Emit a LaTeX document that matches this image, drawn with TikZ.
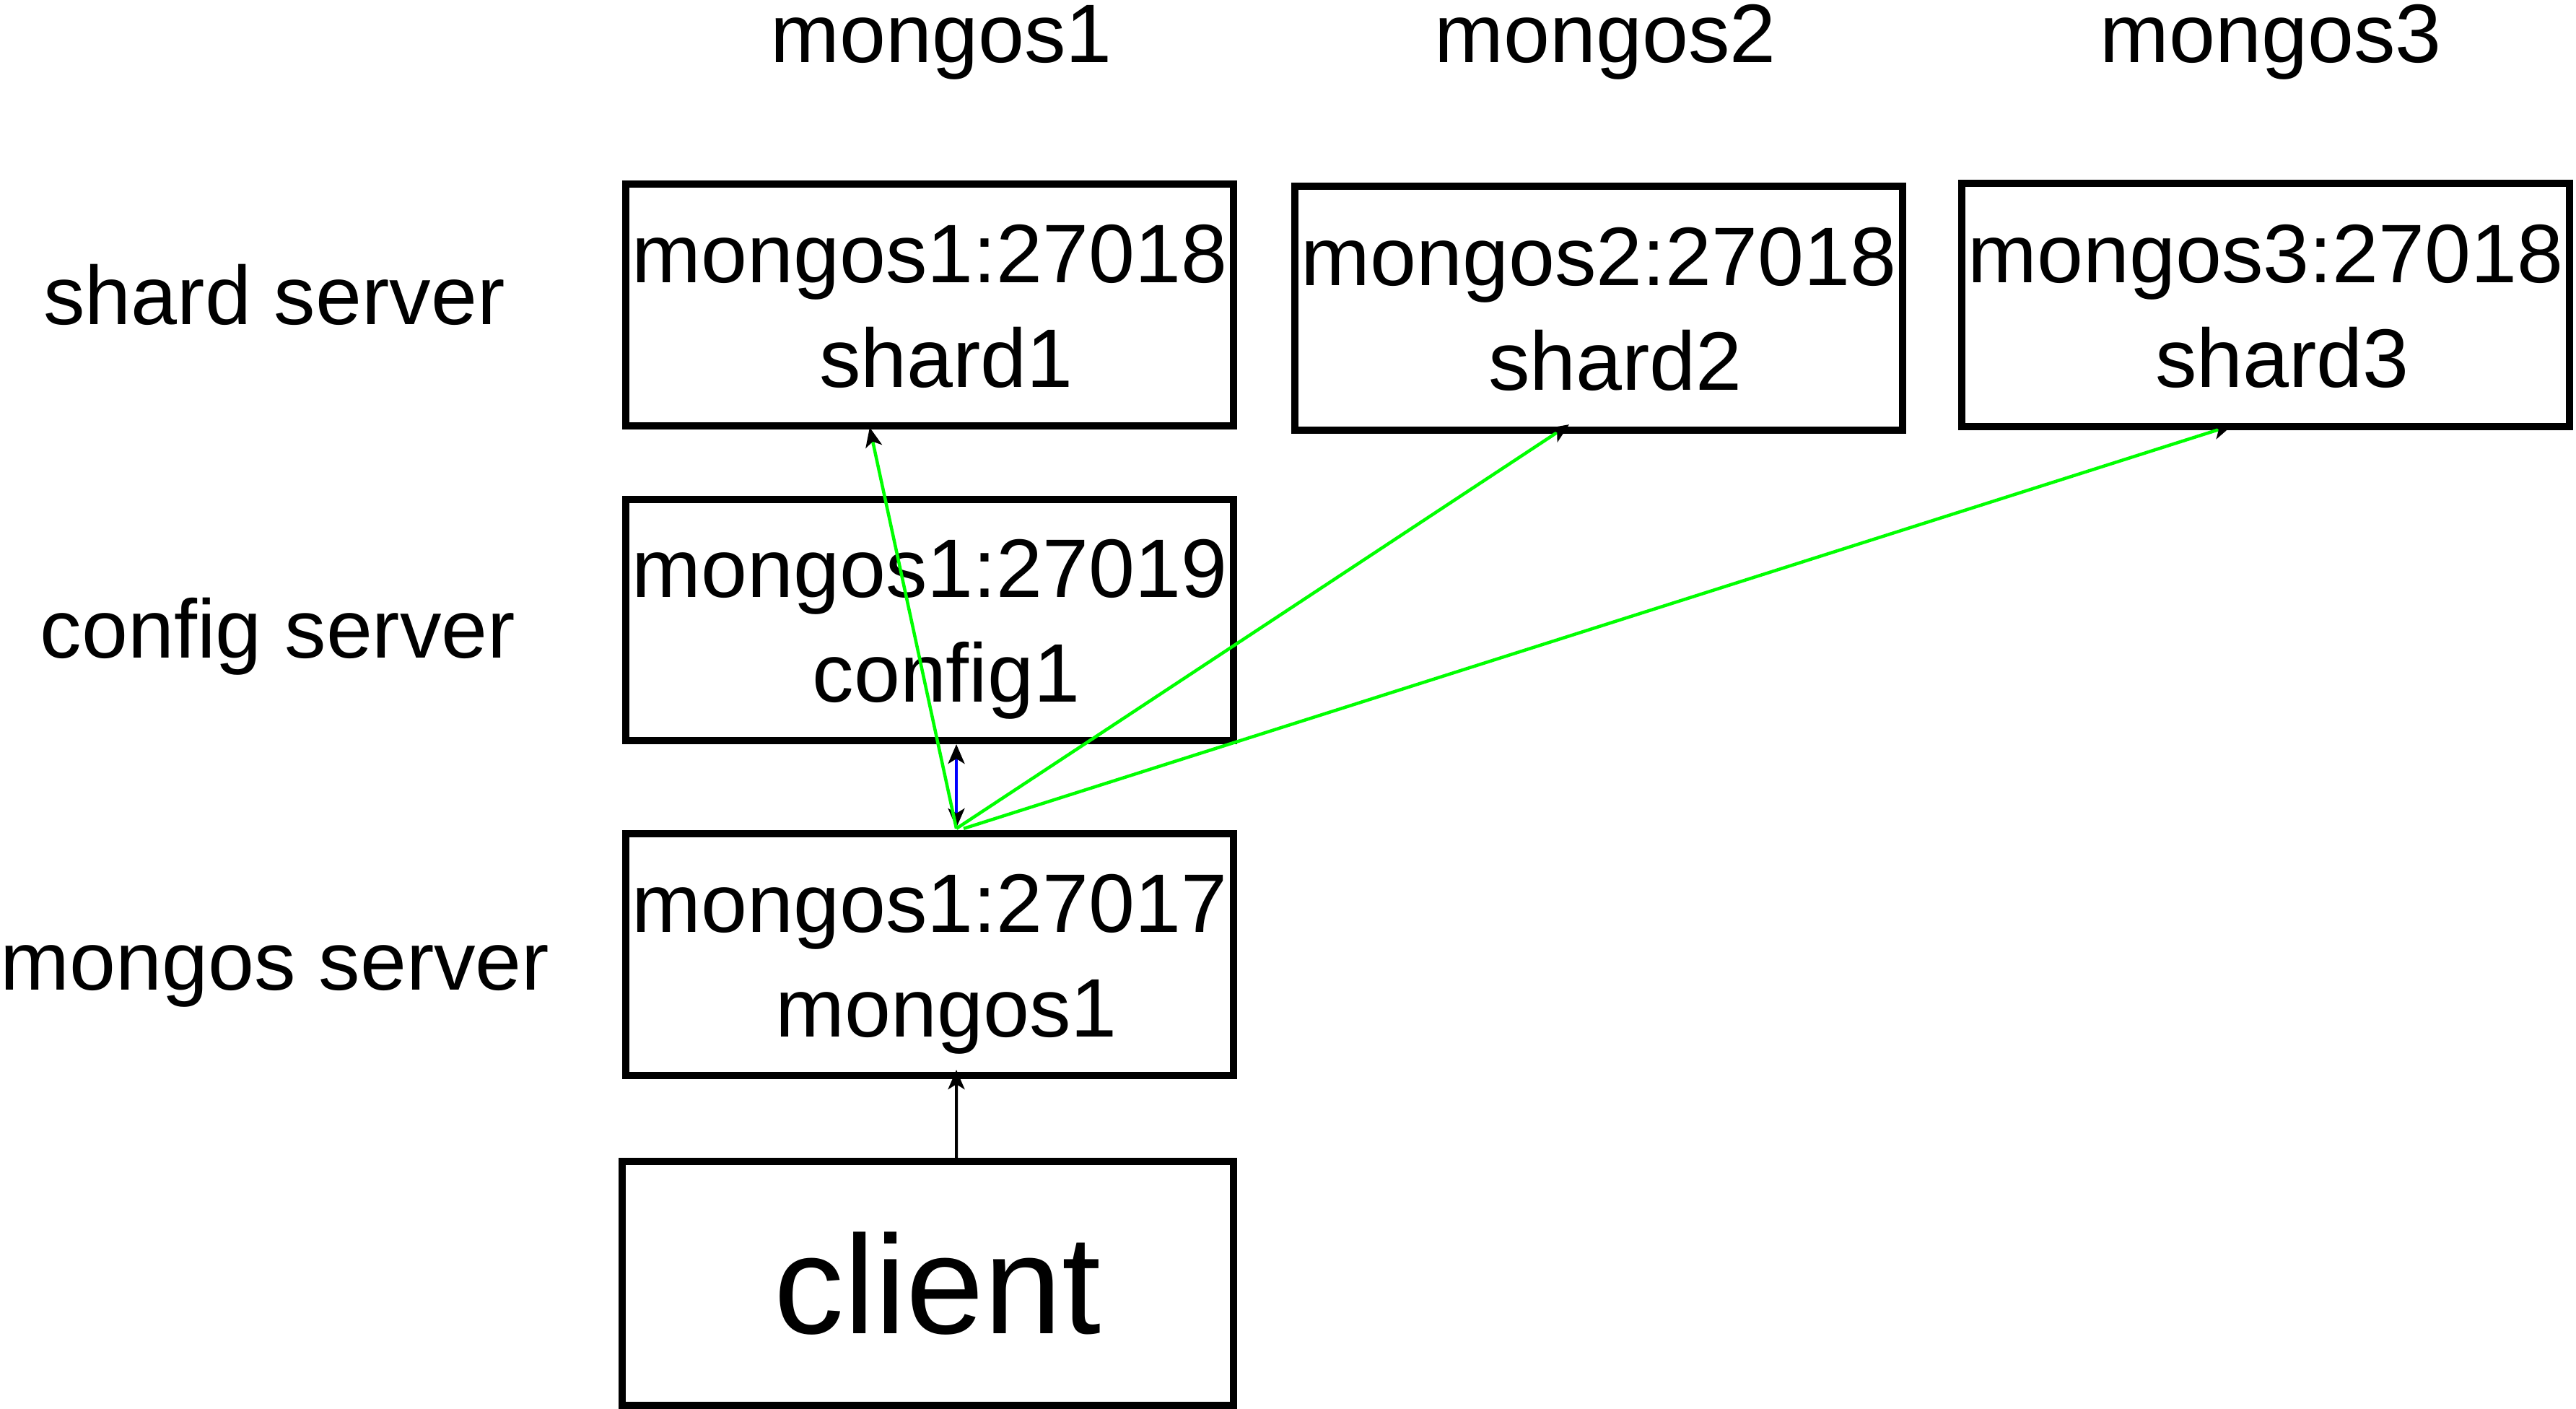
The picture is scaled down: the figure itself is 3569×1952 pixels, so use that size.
\documentclass[tikz,border=0pt]{standalone}
\usepackage{fontspec}
\setmainfont{Liberation Sans}
\usetikzlibrary{arrows.meta}
\definecolor{lgreen}{RGB}{0,255,0}
\definecolor{lblue}{RGB}{0,0,255}
\newcommand\Ls{\rule[-0.21em]{0pt}{1.14em}}
\newcommand\boxfont{\fontsize{32.7pt}{1.45cm}\selectfont}
\newcommand\bigfont{\fontsize{55.2pt}{66pt}\selectfont}
\tikzset{
  tipb/.tip={Stealth[length=0.27cm,width=0.23cm,inset=0.07cm,color=black]},
  box/.style={draw, line width=0.1cm, inner sep=0pt, outer sep=0pt,
    minimum width=8.42cm, minimum height=3.35cm, align=center, font=\boxfont},
  lbl/.style={anchor=base, inner sep=0pt, outer sep=0pt, font=\boxfont},
  blk/.style={line width=0.04cm, black, -tipb},
  grn/.style={line width=0.045cm, lgreen, -tipb},
  blu/.style={line width=0.04cm, lblue, tipb-tipb},
}
\begin{document}
\begin{tikzpicture}[x=0.01cm,y=-0.01cm]
\useasboundingbox (0,0) rectangle (3569,1952);

% column titles
\node[lbl] (t1) at (1304,87) {mongos1};
\node[lbl] (t2) at (2224,87) {mongos2};
\node[lbl] (t3) at (3146,87) {mongos3};

% row titles
\node[lbl] (r1) at (380,450) {shard server};
\node[lbl] (r2) at (385,911) {config server};
\node[lbl] (r3) at (381,1371) {mongos server};

% boxes
\node[box] (shard1) at (1288,422.5) {\Ls mongos1:27018\\\hspace*{0.4em}\Ls shard1};
\node[box, minimum height=3.38cm] (shard2) at (2215,427) {\Ls mongos2:27018\\\hspace*{0.4em}\Ls shard2};
\node[box, minimum height=3.37cm] (shard3) at (3139,422.5) {\Ls mongos3:27018\\\hspace*{0.4em}\Ls shard3};
\node[box, minimum height=3.34cm] (config) at (1288,859) {\Ls mongos1:27019\\\hspace*{0.4em}\Ls config1};
\node[box] (mongos) at (1288,1322.5) {\Ls mongos1:27017\\\hspace*{0.4em}\Ls mongos1};
\node[box, minimum width=8.47cm, minimum height=3.38cm, font=\bigfont] (client) at (1285.5,1778) {\hspace*{0.14em}\Ls client};

% connectors
\coordinate (hub) at ([xshift=0.37cm,yshift=0.07cm]mongos.north);
\draw[blk] ([xshift=0.395cm]client.north) -- ([xshift=0.37cm,yshift=0.08cm]mongos.south);
\draw[blu] ([xshift=0.37cm,yshift=0.08cm]mongos.north) -- ([xshift=0.37cm,yshift=-0.05cm]config.south);
\draw[grn] (hub) -- ([xshift=-0.83cm,yshift=-0.02cm]shard1.south);
\draw[grn] (hub) -- ([xshift=-0.41cm,yshift=0.08cm]shard2.south);
\draw[grn] ([xshift=0.1cm]hub) -- ([xshift=-0.46cm,yshift=0.02cm]shard3.south);
\end{tikzpicture}
\end{document}
